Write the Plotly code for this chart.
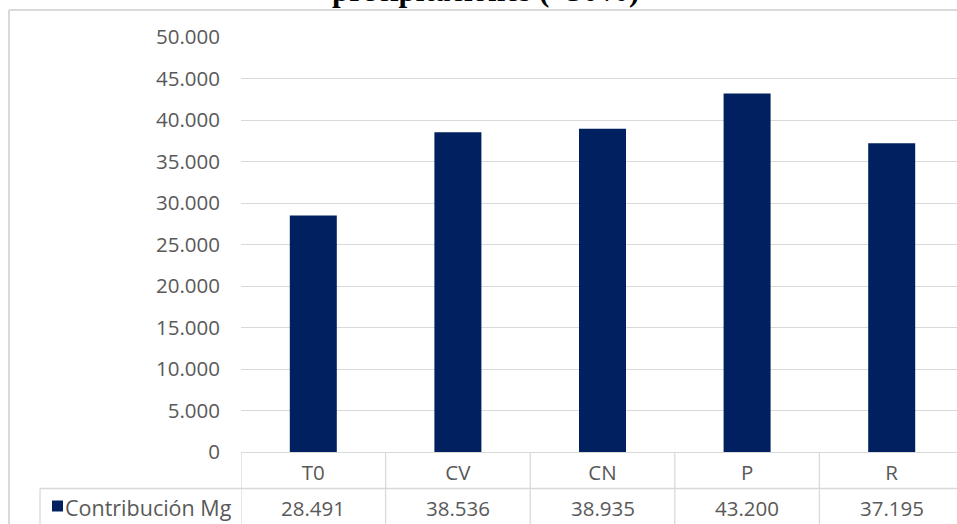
import plotly.graph_objects as go

categories = ["T0", "CV", "CN", "P", "R"]
values = [28491, 38536, 38935, 43200, 37195]
value_labels = ["28.491", "38.536", "38.935", "43.200", "37.195"]
series_name = "Contribución Mg"
title_text = "precipitaciones (+50%)"
y_ticks = [0, 5000, 10000, 15000, 20000, 25000, 30000, 35000, 40000, 45000, 50000]

W, H = 957, 524
L, R, T, B = 241, 0, 37, 72
PW, PH = W - L - R, H - T - B

BAR = "#002060"
GRID = "#d9d9d9"
TXT = "#595959"
FONT = "Open Sans"
FS = 20.5


def px_x(p):
    return (p - L) / PW


def px_y(p):
    return (H - B - p) / PH


fig = go.Figure()
fig.add_trace(go.Bar(x=categories, y=values, name=series_name,
                     marker=dict(color=BAR, line=dict(width=0)), width=0.325))

shapes = []
# table vertical separators between categories
for i in range(len(categories) + 1):
    shapes.append(dict(type="line", xref="x", yref="paper", x0=i - 0.5, x1=i - 0.5,
                       y0=0, y1=px_y(H + 5), line=dict(color=GRID, width=1.3)))
# table row separator
shapes.append(dict(type="line", xref="paper", yref="paper", x0=px_x(40), x1=1.05,
                   y0=px_y(488.5), y1=px_y(488.5), line=dict(color=GRID, width=1.3)))
# legend cell left border
shapes.append(dict(type="line", xref="paper", yref="paper", x0=px_x(40), x1=px_x(40),
                   y0=px_y(488.5), y1=px_y(H + 5), line=dict(color=GRID, width=1.3)))
# outer chart border
shapes.append(dict(type="line", xref="paper", yref="paper", x0=px_x(9), x1=1.05,
                   y0=px_y(10), y1=px_y(10), line=dict(color=GRID, width=2)))
shapes.append(dict(type="line", xref="paper", yref="paper", x0=px_x(9), x1=px_x(9),
                   y0=px_y(10), y1=px_y(H + 5), line=dict(color=GRID, width=2)))
# legend key square
shapes.append(dict(type="rect", xref="paper", yref="paper", x0=px_x(52), x1=px_x(63),
                   y0=px_y(511.5), y1=px_y(500.5), line=dict(width=0), fillcolor=BAR))

annotations = []
for c, v in zip(categories, value_labels):
    annotations.append(dict(x=c, xref="x", y=px_y(508), yref="paper", text=v,
                            showarrow=False, font=dict(family=FONT, size=FS, color=TXT),
                            xanchor="center", yanchor="middle"))
annotations.append(dict(x=px_x(234), xref="paper", y=px_y(507), yref="paper",
                        text=series_name,
                        showarrow=False, font=dict(family=FONT, size=21.5, color=TXT),
                        xanchor="right", yanchor="middle"))
annotations.append(dict(x=px_x(485), xref="paper", y=px_y(-10), yref="paper",
                        text=f"<b>{title_text}</b>", showarrow=False,
                        font=dict(family="Liberation Serif", size=31, color="#000000"),
                        xanchor="center", yanchor="middle"))

fig.update_layout(
    width=W, height=H,
    margin=dict(l=L, r=R, t=T, b=B, pad=0),
    paper_bgcolor="white", plot_bgcolor="white",
    showlegend=False,
    separators=",.",
    shapes=shapes,
    annotations=annotations,
    bargap=0.675,
)
fig.update_xaxes(type="category", categoryorder="array", categoryarray=categories,
                 range=[-0.5, -0.5 + PW / 144.6], showgrid=False, zeroline=False,
                 showline=False, ticks="", ticklabelstandoff=6,
                 tickfont=dict(family=FONT, size=FS, color=TXT))
fig.update_yaxes(range=[0, 50000], tickvals=y_ticks, tickformat=",d",
                 showgrid=True, gridcolor=GRID, gridwidth=1.3,
                 zeroline=True, zerolinecolor=GRID, zerolinewidth=1.3,
                 showline=False, ticks="", ticklabelstandoff=20,
                 tickfont=dict(family=FONT, size=FS, color=TXT))

fig.write_html("out.html", config={"displayModeBar": False},
               post_script="document.body.style.margin='0px';")
